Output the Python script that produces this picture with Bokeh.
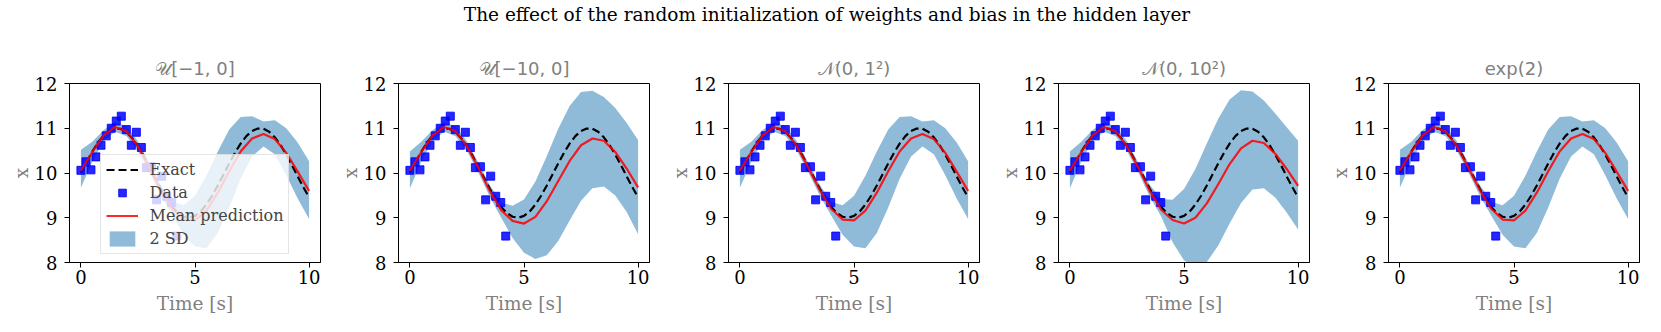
from bokeh.plotting import figure
from bokeh.layouts import row, column
from bokeh.models import Div, Range1d, FixedTicker, Legend, LegendItem
from bokeh.embed import file_html
from bokeh.resources import INLINE

suptitle = "The effect of the random initialization of weights and bias in the hidden layer"
panel_titles = ["\U0001D4B0[\u22121, 0]", "\U0001D4B0[\u221210, 0]", "\U0001D4A9(0, 1\u00b2)",
                "\U0001D4A9(0, 10\u00b2)", "exp(2)"]
x_label = "Time [s]"
y_label = "x"
x_ticks = [0, 5, 10]
y_ticks = [8, 9, 10, 11, 12]

# observed data (same in each panel)
t_data = [0.00, 0.22, 0.44, 0.66, 0.88, 1.11, 1.33, 1.55, 1.77, 1.99,
          2.21, 2.43, 2.65, 2.87, 3.09, 3.32, 3.54, 3.76, 3.98, 4.20]
x_data = [10.06, 10.25, 10.07, 10.36, 10.62, 10.83, 11.00, 11.16, 11.27, 10.97,
          10.62, 10.91, 10.57, 10.12, 10.14, 9.40, 9.93, 9.48, 9.34, 8.59]

# exact solution
t_exact = [0.0, 0.25, 0.5, 0.75, 1.0, 1.25, 1.5, 1.75, 2.0, 2.25, 2.5, 2.75, 3.0, 3.25,
           3.5, 3.75, 4.0, 4.25, 4.5, 4.75, 5.0, 5.25, 5.5, 5.75, 6.0, 6.25, 6.5, 6.75,
           7.0, 7.25, 7.5, 7.75, 8.0, 8.25, 8.5, 8.75, 9.0, 9.25, 9.5, 9.75, 10.0]
x_exact = [10.000, 10.247, 10.479, 10.682, 10.841, 10.949, 10.997, 10.984, 10.909, 10.778,
           10.598, 10.382, 10.141, 9.892, 9.649, 9.428, 9.243, 9.105, 9.022, 9.001,
           9.041, 9.141, 9.294, 9.492, 9.721, 9.967, 10.215, 10.450, 10.657, 10.823,
           10.938, 10.994, 10.989, 10.923, 10.798, 10.625, 10.412, 10.174, 9.925, 9.681, 9.456]

# predictions
t_grid = [0, 0.5, 1, 1.5, 2, 2.5, 3, 3.5, 4, 4.5, 5, 5.5, 6, 6.5, 7, 7.5, 8, 8.5, 9, 9.5, 10]

mean_narrow = [10.05, 10.47, 10.84, 11.03, 10.93, 10.60, 10.12, 9.62, 9.20, 8.96, 8.94,
               9.16, 9.56, 10.04, 10.48, 10.77, 10.87, 10.76, 10.45, 10.03, 9.60]
upper_narrow = [10.52, 10.70, 10.96, 11.14, 11.04, 10.71, 10.23, 9.74, 9.36, 9.28, 9.49,
                9.94, 10.48, 10.97, 11.25, 11.27, 11.15, 11.18, 11.00, 10.68, 10.26]
lower_narrow = [9.67, 10.25, 10.72, 10.92, 10.82, 10.49, 10.01, 9.50, 9.05, 8.62, 8.36,
                8.32, 8.66, 9.23, 9.87, 10.37, 10.59, 10.42, 9.95, 9.43, 8.97]

mean_u10 = [10.05, 10.47, 10.84, 11.03, 10.93, 10.60, 10.12, 9.60, 9.17, 8.93, 8.87,
            9.02, 9.37, 9.82, 10.27, 10.62, 10.77, 10.72, 10.47, 10.10, 9.68]
upper_u10 = [10.48, 10.70, 10.96, 11.14, 11.04, 10.71, 10.23, 9.73, 9.34, 9.27, 9.41,
             9.81, 10.38, 10.99, 11.50, 11.81, 11.84, 11.70, 11.45, 11.12, 10.74]
lower_u10 = [9.66, 10.25, 10.72, 10.92, 10.82, 10.49, 10.01, 9.47, 9.00, 8.55, 8.22,
             8.08, 8.16, 8.48, 8.94, 9.38, 9.66, 9.70, 9.50, 9.13, 8.63]

mean_n10 = [10.05, 10.47, 10.84, 11.03, 10.93, 10.60, 10.12, 9.60, 9.18, 8.95, 8.87,
            9.00, 9.32, 9.75, 10.20, 10.55, 10.72, 10.67, 10.43, 10.09, 9.71]
upper_n10 = [10.48, 10.70, 10.96, 11.14, 11.04, 10.71, 10.23, 9.74, 9.42, 9.40, 9.64,
             10.09, 10.66, 11.21, 11.64, 11.85, 11.82, 11.62, 11.33, 11.02, 10.72]
lower_n10 = [9.66, 10.25, 10.72, 10.92, 10.82, 10.49, 10.01, 9.47, 9.03, 8.45, 8.05,
             7.89, 8.01, 8.38, 8.87, 9.33, 9.63, 9.66, 9.45, 9.12, 8.74]

panel_data = [
    (mean_narrow, upper_narrow, lower_narrow),
    (mean_u10, upper_u10, lower_u10),
    (mean_narrow, upper_narrow, lower_narrow),
    (mean_n10, upper_n10, lower_n10),
    (mean_narrow, upper_narrow, lower_narrow),
]

right_borders = [9, 10, 10, 10, 3]
ML, BL, BT, BB = 7, 61, 49, 60
FW, FH = 251, 179
SERIF = "DejaVu Serif"
SANS = "DejaVu Sans"
GRAY = "#808080"
FS = "18px"

figs = []
for i, (mean, upper, lower) in enumerate(panel_data):
    p = figure(frame_width=FW, frame_height=FH, output_backend="svg", toolbar_location=None,
               x_range=Range1d(-0.5, 10.5), y_range=Range1d(8, 12),
               min_border_left=BL, min_border_right=right_borders[i],
               min_border_top=BT, min_border_bottom=BB,
               margin=(0, 0, 0, ML),
               title=panel_titles[i])
    p.title.text_font = SANS
    p.title.text_font_size = FS
    p.title.text_font_style = "normal"
    p.title.text_color = GRAY
    p.title.align = "center"
    p.title.standoff = 10
    p.xgrid.visible = False
    p.ygrid.visible = False
    p.outline_line_color = "black"
    p.outline_line_alpha = 1
    p.outline_line_width = 1
    p.xaxis.ticker = FixedTicker(ticks=x_ticks)
    p.yaxis.ticker = FixedTicker(ticks=y_ticks)
    p.xaxis.axis_label = x_label
    p.yaxis.axis_label = y_label
    for ax in (p.xaxis[0], p.yaxis[0]):
        ax.axis_label_text_font = SERIF
        ax.axis_label_text_font_style = "normal"
        ax.axis_label_text_font_size = "18.5px"
        ax.axis_label_text_color = GRAY
        ax.major_label_text_font = SERIF
        ax.major_label_text_font_size = FS
        ax.major_label_text_color = "black"
        ax.major_tick_out = 5
        ax.major_tick_in = 0
        ax.minor_tick_out = 0
        ax.minor_tick_in = 0
        ax.axis_line_color = "black"
        ax.major_tick_line_color = "black"
    p.xaxis.major_label_standoff = 2
    p.yaxis.major_label_standoff = 7
    p.yaxis.axis_label_standoff = 0
    p.xaxis.axis_label_standoff = 6

    r_band = p.varea(x=t_grid, y1=lower, y2=upper, fill_color="#1f77b4", fill_alpha=0.5)
    r_exact = p.line(t_exact, x_exact, line_color="black", line_dash="8 4", line_width=2.2)
    r_data = p.scatter(t_data, x_data, marker="square", size=8, fill_color="#0000ff",
                       line_color="#0000ff", fill_alpha=0.85, line_alpha=0.85)
    r_mean = p.line(t_grid, mean, line_color="red", line_width=2.2, line_alpha=0.85)

    if i == 0:
        legend = Legend(items=[
            LegendItem(label="Exact", renderers=[r_exact]),
            LegendItem(label="Data", renderers=[r_data]),
            LegendItem(label="Mean prediction", renderers=[r_mean]),
            LegendItem(label="2 SD", renderers=[r_band]),
        ], location="bottom_center")
        legend.label_text_font = SERIF
        legend.label_text_font_size = "16px"
        legend.glyph_width = 32
        legend.glyph_height = 19
        legend.label_height = 19
        legend.spacing = 4
        legend.padding = 5
        legend.margin = 8
        legend.label_standoff = 12
        legend.border_line_color = "#cccccc"
        legend.background_fill_color = "white"
        legend.background_fill_alpha = 0.8
        p.add_layout(legend)
    figs.append(p)

title_div = Div(
    text='<div style="width:1644px;font-family:\'DejaVu Serif\';font-size:18.5px;line-height:10px;'
         'padding-top:5px;text-align:center;color:black;white-space:nowrap;">' + suptitle + '</div>',
    width=1644, height=24)

layout = column(title_div, row(*figs))
open("out.html", "w").write(file_html(layout, INLINE))
